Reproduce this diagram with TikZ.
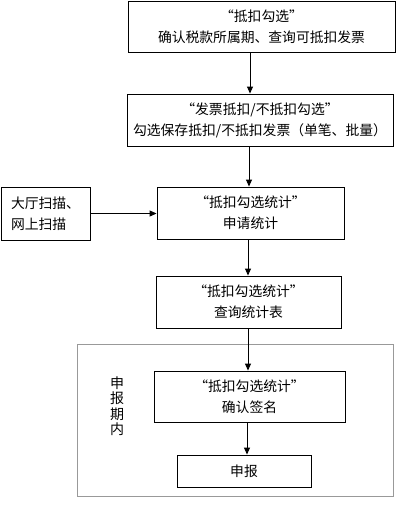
\documentclass[tikz,border=0pt]{standalone}
\usepackage{fontspec}
\setmainfont{Noto Sans CJK SC}
\usetikzlibrary{arrows.meta}
\tikzset{
  box/.style={draw=black, line width=0.9pt, align=center, inner sep=0pt, font=\fontsize{13.8}{21}\selectfont},
  arr/.style={draw=black, line width=0.9pt, -{Triangle[width=6pt,length=7pt]}},
}
\begin{document}
\begin{tikzpicture}[x=1pt,y=-1pt]
\useasboundingbox (0,0) rectangle (417,520);
\draw[gray!80, line width=0.9pt] (77,344) rectangle (393,496);
\node[box, minimum width=267pt, minimum height=51pt] (b1) at (261.5,26.5) {“抵扣勾选”\\确认税款所属期、查询可抵扣发票};
\node[box, minimum width=266pt, minimum height=52pt] (b2) at (260,120) {“发票抵扣/不抵扣勾选”\\勾选保存抵扣/不抵扣发票（单笔、批量）};
\node[box, minimum width=89pt, minimum height=53pt, align=left] (l) at (45.5,213.5) {大厅扫描、\\网上扫描\hspace*{13.8pt}};
\node[box, minimum width=187pt, minimum height=52pt] (b3) at (250.5,213) {“抵扣勾选统计”\\申请统计};
\node[box, minimum width=185pt, minimum height=52pt] (b4) at (248.5,302) {“抵扣勾选统计”\\查询统计表};
\node[box, minimum width=191pt, minimum height=51pt] (b5) at (249.5,396.5) {“抵扣勾选统计”\\确认签名};
\node[box, minimum width=134pt, minimum height=32pt] (b6) at (244,471) {申报};
\node[align=center, inner sep=0pt, font=\fontsize{14}{15.5}\selectfont] (v) at (117,406) {申\\报\\期\\内};
\coordinate (x1) at (250,0);
\coordinate (x2) at (249,0);
\coordinate (x3) at (248,0);
\coordinate (x4) at (248,0);
\coordinate (x5) at (247,0);
\draw[arr] (b1.south -| x1) -- (b2.north -| x1);
\draw[arr] (b2.south -| x2) -- (b3.north -| x2);
\draw[arr] (l.east) -- (b3.west |- l.east);
\draw[arr] (b3.south -| x3) -- (b4.north -| x3);
\draw[arr] (b4.south -| x4) -- (b5.north -| x4);
\draw[arr] (b5.south -| x5) -- (b6.north -| x5);
\end{tikzpicture}
\end{document}
